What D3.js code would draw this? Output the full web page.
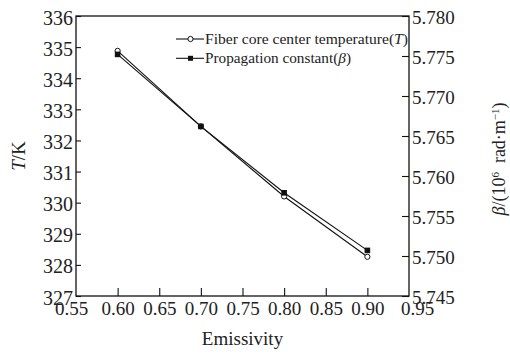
<!DOCTYPE html>
<html>
<head>
<meta charset="utf-8">
<script src="https://cdn.jsdelivr.net/npm/d3@7"></script>
<style>
  html, body { margin: 0; padding: 0; background: #fff; }
  svg { display: block; }
</style>
</head>
<body>
<svg id="chart" width="510" height="354"></svg>
<script>
// Emissivity sweep: core temperature and propagation constant
const emissivity = [0.60, 0.70, 0.80, 0.90];
const temperature = [334.88, 332.45, 330.20, 328.26];
const beta = [5.7752, 5.7662, 5.7579, 5.7507];

const xTicks = [0.55, 0.60, 0.65, 0.70, 0.75, 0.80, 0.85, 0.90, 0.95];
const tTicks = [327, 328, 329, 330, 331, 332, 333, 334, 335, 336];
const bTicks = [5.745, 5.750, 5.755, 5.760, 5.765, 5.770, 5.775, 5.780];

const legendLabels = ["Fiber core center temperature(", "Propagation constant("];

const SERIF = "'Liberation Serif', 'Times New Roman', Times, 'DejaVu Serif', serif";

const svg = d3.select("#chart");
const L = 76, R = 409, T = 16, B = 296;

const x = d3.scaleLinear().domain([0.55, 0.95]).range([L, R]);
const yT = d3.scaleLinear().domain([327, 336]).range([B, T]);
const yB = d3.scaleLinear().domain([5.745, 5.780]).range([B, T]);

// frame
svg.append("rect")
  .attr("x", L).attr("y", T).attr("width", R - L).attr("height", B - T)
  .attr("fill", "none").attr("stroke", "#111").attr("stroke-width", 1.3);

function styleAxis(g) {
  g.attr("font-family", null).attr("font-size", null);
  g.select(".domain").remove();
  g.selectAll(".tick line").attr("stroke", "#111").attr("stroke-width", 1.1);
  g.selectAll(".tick text").attr("fill", "#222")
    .style("font-family", SERIF).style("font-size", "19px");
}

// bottom axis
const gx = svg.append("g").attr("transform", `translate(0,${B})`)
  .call(d3.axisBottom(x).tickValues(xTicks).tickFormat(d3.format(".2f"))
    .tickSizeInner(-8).tickSizeOuter(0).tickPadding(6));
styleAxis(gx);
gx.selectAll(".tick").filter(d => d === 0.55 || d === 0.95).select("line").remove();
gx.selectAll(".tick text").attr("dx", d => d === 0.55 ? -5 : d === 0.95 ? 8 : 0);

// left axis
const gl = svg.append("g").attr("transform", `translate(${L},0)`)
  .call(d3.axisLeft(yT).tickValues(tTicks).tickFormat(d3.format("d"))
    .tickSizeInner(-5).tickSizeOuter(0).tickPadding(3));
styleAxis(gl);
gl.selectAll(".tick text").attr("dy", "0.4em").style("font-size", "20px");

// right axis
const gr = svg.append("g").attr("transform", `translate(${R},0)`)
  .call(d3.axisRight(yB).tickValues(bTicks).tickFormat(d3.format(".3f"))
    .tickSizeInner(-7).tickSizeOuter(0).tickPadding(3));
styleAxis(gr);
gr.selectAll(".tick text").attr("dy", "0.38em");

// series lines
const lineT = d3.line().x((d, i) => x(emissivity[i])).y(d => yT(d));
const lineB = d3.line().x((d, i) => x(emissivity[i])).y(d => yB(d));

svg.append("path").datum(temperature).attr("d", lineT)
  .attr("fill", "none").attr("stroke", "#111").attr("stroke-width", 1.1);
svg.append("path").datum(beta).attr("d", lineB)
  .attr("fill", "none").attr("stroke", "#111").attr("stroke-width", 1.1);

// markers
svg.selectAll(".mT").data(temperature).enter().append("circle")
  .attr("cx", (d, i) => x(emissivity[i])).attr("cy", d => yT(d)).attr("r", 2.6)
  .attr("fill", "#fff").attr("stroke", "#111").attr("stroke-width", 1);
svg.selectAll(".mB").data(beta).enter().append("rect")
  .attr("x", (d, i) => x(emissivity[i]) - 2.8).attr("y", d => yB(d) - 2.8)
  .attr("width", 5.6).attr("height", 5.6).attr("fill", "#111");

// legend
const lg = svg.append("g");
const rows = [39, 58.3];
const symX = 190.5;
rows.forEach((ry, i) => {
  lg.append("line").attr("x1", 176).attr("x2", 204).attr("y1", ry).attr("y2", ry)
    .attr("stroke", "#111").attr("stroke-width", 1.1);
  if (i === 0) {
    lg.append("circle").attr("cx", symX).attr("cy", ry).attr("r", 2.6)
      .attr("fill", "#fff").attr("stroke", "#111").attr("stroke-width", 1);
  } else {
    lg.append("rect").attr("x", symX - 2.5).attr("y", ry - 2.5)
      .attr("width", 5).attr("height", 5).attr("fill", "#111");
  }
  const t = lg.append("text").attr("x", 205).attr("y", ry + 4.6)
    .style("font-family", SERIF).style("font-size", "14px").attr("fill", "#222");
  t.append("tspan").text(legendLabels[i]);
  t.append("tspan").attr("font-style", "italic").text(i === 0 ? "T" : "β");
  t.append("tspan").text(")");
  t.attr("textLength", i === 0 ? 203 : 146).attr("lengthAdjust", "spacingAndGlyphs");
});

// axis titles
svg.append("text").attr("x", (L + R) / 2).attr("y", 345)
  .attr("text-anchor", "middle").attr("fill", "#222")
  .style("font-family", SERIF).style("font-size", "19px").text("Emissivity");

const tl = svg.append("text").attr("transform", "translate(25,156) rotate(-90)")
  .attr("text-anchor", "middle").attr("fill", "#222")
  .style("font-family", SERIF).style("font-size", "19px");
tl.append("tspan").attr("font-style", "italic").text("T");
tl.append("tspan").text("/K");

const bl = svg.append("text").attr("transform", "translate(505,159) rotate(-90)")
  .attr("text-anchor", "middle").attr("fill", "#222")
  .style("font-family", SERIF).style("font-size", "18px");
bl.append("tspan").attr("font-style", "italic").text("β");
bl.append("tspan").text("/(10");
bl.append("tspan").attr("baseline-shift", "super").style("font-size", "11px").text("6");
bl.append("tspan").text("\u00a0 rad·m");
bl.append("tspan").attr("baseline-shift", "super").style("font-size", "11px").text("−1");
bl.append("tspan").text(")");
</script>
</body>
</html>
